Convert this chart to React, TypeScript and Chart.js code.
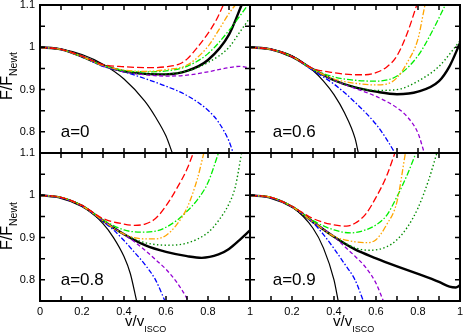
import React, { useEffect, useRef } from 'react';
import { Chart, registerables } from 'chart.js';

Chart.register(...registerables);

type Pts = [number, number][];

// ---- axis ticks / labels ----
const X_TICKS = [0, 0.1, 0.2, 0.3, 0.4, 0.5, 0.6, 0.7, 0.8, 0.9, 1.0];
const Y_TICKS = [0.75, 0.8, 0.85, 0.9, 0.95, 1.0, 1.05, 1.1];
const X_LABELS = ['0', '0.2', '0.4', '0.6', '0.8', '1'];
const Y_LABELS = ['0.8', '0.9', '1', '1.1'];
const PANEL_LABELS = ['a=0', 'a=0.6', 'a=0.8', 'a=0.9'];

// ---- a = 0 ----
const A0_THIN: Pts = [[0, 1], [0.1, 0.996], [0.2, 0.983], [0.3, 0.96], [0.4, 0.925], [0.5, 0.872], [0.55, 0.835], [0.6, 0.79], [0.63, 0.75]];
const A0_THICK: Pts = [[0, 1], [0.1, 0.995], [0.2, 0.978], [0.3, 0.957], [0.4, 0.943], [0.5, 0.937], [0.6, 0.936], [0.7, 0.944], [0.8, 0.97], [0.9, 1.03], [0.96, 1.1]];
const A0_RED: Pts = [[0, 1], [0.1, 0.995], [0.2, 0.979], [0.3, 0.959], [0.4, 0.954], [0.5, 0.952], [0.55, 0.952], [0.6, 0.954], [0.667, 0.961], [0.7, 0.972], [0.75, 1.0], [0.8, 1.033], [0.84, 1.065], [0.873, 1.1]];
const A0_ORANGE: Pts = [[0, 1], [0.1, 0.995], [0.2, 0.978], [0.3, 0.957], [0.4, 0.946], [0.5, 0.943], [0.55, 0.944], [0.6, 0.947], [0.7, 0.958], [0.8, 1.002], [0.85, 1.04], [0.9, 1.08], [0.93, 1.1]];
const A0_GREEN: Pts = [[0, 1], [0.1, 0.995], [0.2, 0.978], [0.3, 0.957], [0.4, 0.945], [0.5, 0.942], [0.6, 0.944], [0.7, 0.955], [0.8, 0.985], [0.9, 1.04], [0.99, 1.1]];
const A0_DOTTED: Pts = [[0, 1], [0.1, 0.995], [0.2, 0.978], [0.3, 0.957], [0.4, 0.943], [0.5, 0.937], [0.6, 0.937], [0.7, 0.944], [0.8, 0.964], [0.9, 1.0], [0.95, 1.035], [1.0, 1.07]];
const A0_PURPLE: Pts = [[0, 1], [0.1, 0.995], [0.2, 0.978], [0.3, 0.956], [0.4, 0.942], [0.5, 0.935], [0.6, 0.932], [0.7, 0.934], [0.8, 0.942], [0.9, 0.952], [0.95, 0.955], [1.0, 0.951]];
const A0_BLUE: Pts = [[0, 1], [0.1, 0.995], [0.2, 0.978], [0.3, 0.955], [0.4, 0.942], [0.5, 0.926], [0.6, 0.908], [0.7, 0.886], [0.8, 0.851], [0.85, 0.823], [0.9, 0.778], [0.92, 0.75]];

// ---- a = 0.6 ----
const A6_THIN: Pts = [[0, 1], [0.1, 0.996], [0.2, 0.98], [0.3, 0.945], [0.35, 0.92], [0.4, 0.888], [0.45, 0.845], [0.5, 0.785], [0.516, 0.75]];
const A6_THICK: Pts = [[0, 1], [0.1, 0.995], [0.2, 0.978], [0.3, 0.948], [0.4, 0.922], [0.5, 0.905], [0.6, 0.895], [0.7, 0.889], [0.8, 0.895], [0.9, 0.92], [0.95, 0.955], [1.0, 1.01]];
const A6_RED: Pts = [[0, 1], [0.1, 0.995], [0.2, 0.978], [0.3, 0.95], [0.4, 0.94], [0.5, 0.935], [0.55, 0.935], [0.6, 0.94], [0.65, 0.953], [0.7, 0.98], [0.75, 1.035], [0.794, 1.1]];
const A6_ORANGE: Pts = [[0, 1], [0.1, 0.995], [0.2, 0.978], [0.3, 0.948], [0.4, 0.925], [0.5, 0.915], [0.6, 0.911], [0.65, 0.913], [0.7, 0.928], [0.75, 0.965], [0.8, 1.02], [0.833, 1.1]];
const A6_GREEN: Pts = [[0, 1], [0.1, 0.995], [0.2, 0.978], [0.3, 0.948], [0.4, 0.93], [0.5, 0.922], [0.6, 0.92], [0.7, 0.932], [0.8, 0.98], [0.87, 1.04], [0.93, 1.1]];
const A6_DOTTED: Pts = [[0, 1], [0.1, 0.995], [0.2, 0.978], [0.3, 0.948], [0.4, 0.922], [0.5, 0.906], [0.6, 0.898], [0.7, 0.9], [0.8, 0.92], [0.9, 0.955], [1.0, 1.015]];
const A6_PURPLE: Pts = [[0, 1], [0.1, 0.995], [0.2, 0.978], [0.3, 0.948], [0.4, 0.922], [0.5, 0.903], [0.6, 0.884], [0.7, 0.857], [0.75, 0.835], [0.8, 0.797], [0.83, 0.75]];
const A6_BLUE: Pts = [[0, 1], [0.1, 0.995], [0.2, 0.978], [0.3, 0.945], [0.4, 0.913], [0.5, 0.87], [0.6, 0.818], [0.65, 0.783], [0.69, 0.75]];

// ---- a = 0.8 ----
const A8_THIN: Pts = [[0, 1], [0.1, 0.995], [0.2, 0.975], [0.3, 0.933], [0.35, 0.9], [0.4, 0.855], [0.43, 0.815], [0.46, 0.75]];
const A8_THICK: Pts = [[0, 1], [0.1, 0.994], [0.2, 0.975], [0.3, 0.94], [0.4, 0.908], [0.5, 0.882], [0.6, 0.866], [0.7, 0.856], [0.77, 0.852], [0.85, 0.86], [0.9, 0.873], [0.95, 0.894], [1.0, 0.917]];
const A8_RED: Pts = [[0, 1], [0.1, 0.995], [0.2, 0.976], [0.3, 0.945], [0.4, 0.932], [0.45, 0.929], [0.5, 0.932], [0.55, 0.945], [0.6, 0.975], [0.65, 1.015], [0.7, 1.062], [0.73, 1.1]];
const A8_ORANGE: Pts = [[0, 1], [0.1, 0.995], [0.2, 0.975], [0.3, 0.94], [0.4, 0.908], [0.5, 0.897], [0.55, 0.897], [0.6, 0.905], [0.65, 0.93], [0.7, 0.97], [0.75, 1.04], [0.78, 1.1]];
const A8_GREEN: Pts = [[0, 1], [0.1, 0.995], [0.2, 0.976], [0.3, 0.942], [0.4, 0.918], [0.48, 0.913], [0.55, 0.915], [0.65, 0.94], [0.7, 0.962], [0.75, 0.99], [0.8, 1.03], [0.85, 1.1]];
const A8_DOTTED: Pts = [[0, 1], [0.1, 0.994], [0.2, 0.975], [0.3, 0.94], [0.4, 0.908], [0.5, 0.888], [0.6, 0.882], [0.7, 0.887], [0.8, 0.912], [0.85, 0.94], [0.9, 0.98], [0.93, 1.02], [0.96, 1.1]];
const A8_PURPLE: Pts = [[0, 1], [0.1, 0.994], [0.2, 0.975], [0.3, 0.94], [0.4, 0.907], [0.45, 0.89], [0.5, 0.87], [0.55, 0.848], [0.6, 0.825], [0.65, 0.795], [0.7, 0.756], [0.706, 0.75]];
const A8_BLUE: Pts = [[0, 1], [0.1, 0.994], [0.2, 0.975], [0.3, 0.938], [0.35, 0.918], [0.4, 0.893], [0.45, 0.865], [0.5, 0.836], [0.55, 0.8], [0.595, 0.75]];

// ---- a = 0.9 ----
const A9_THIN: Pts = [[0, 1], [0.1, 0.995], [0.2, 0.973], [0.3, 0.922], [0.35, 0.875], [0.4, 0.8], [0.42, 0.75]];
const A9_THICK: Pts = [[0, 1], [0.1, 0.994], [0.2, 0.973], [0.3, 0.937], [0.4, 0.902], [0.5, 0.872], [0.6, 0.851], [0.7, 0.832], [0.8, 0.814], [0.9, 0.795], [0.95, 0.784], [0.98, 0.782], [1.0, 0.787]];
const A9_RED: Pts = [[0, 1], [0.1, 0.995], [0.2, 0.974], [0.3, 0.945], [0.4, 0.93], [0.46, 0.927], [0.5, 0.934], [0.55, 0.955], [0.6, 0.995], [0.65, 1.045], [0.69, 1.1]];
const A9_ORANGE: Pts = [[0, 1], [0.1, 0.995], [0.2, 0.973], [0.3, 0.937], [0.4, 0.903], [0.5, 0.89], [0.55, 0.888], [0.6, 0.895], [0.65, 0.93], [0.7, 0.985], [0.74, 1.1]];
const A9_GREEN: Pts = [[0, 1], [0.1, 0.995], [0.2, 0.974], [0.3, 0.94], [0.4, 0.918], [0.48, 0.911], [0.55, 0.918], [0.6, 0.93], [0.65, 0.952], [0.7, 0.997], [0.75, 1.05], [0.79, 1.1]];
const A9_DOTTED: Pts = [[0, 1], [0.1, 0.994], [0.2, 0.973], [0.3, 0.937], [0.4, 0.902], [0.5, 0.876], [0.57, 0.87], [0.65, 0.878], [0.7, 0.895], [0.75, 0.925], [0.8, 0.97], [0.85, 1.035], [0.89, 1.1]];
const A9_PURPLE: Pts = [[0, 1], [0.1, 0.994], [0.2, 0.973], [0.3, 0.937], [0.4, 0.902], [0.45, 0.879], [0.5, 0.856], [0.55, 0.83], [0.6, 0.792], [0.635, 0.75]];
const A9_BLUE: Pts = [[0, 1], [0.1, 0.994], [0.2, 0.973], [0.3, 0.935], [0.35, 0.907], [0.4, 0.874], [0.45, 0.838], [0.5, 0.8], [0.54, 0.75]];

const PANEL_SERIES: Pts[][] = [
  [A0_THICK, A0_THIN, A0_RED, A0_ORANGE, A0_GREEN, A0_DOTTED, A0_PURPLE, A0_BLUE],
  [A6_THICK, A6_THIN, A6_RED, A6_ORANGE, A6_GREEN, A6_DOTTED, A6_PURPLE, A6_BLUE],
  [A8_THICK, A8_THIN, A8_RED, A8_ORANGE, A8_GREEN, A8_DOTTED, A8_PURPLE, A8_BLUE],
  [A9_THICK, A9_THIN, A9_RED, A9_ORANGE, A9_GREEN, A9_DOTTED, A9_PURPLE, A9_BLUE],
];

// styles (same order as series)
const STYLES = [
  { color: '#000000', width: 2.4, dash: [] as number[], order: 3 },
  { color: '#000000', width: 1.2, dash: [] as number[], order: 3 },
  { color: '#ff0000', width: 1.3, dash: [7, 3], order: 1 },
  { color: '#ffa500', width: 1.3, dash: [6, 2, 1.5, 2, 1.5, 2], order: 1 },
  { color: '#00ee00', width: 1.3, dash: [6, 2, 1.5, 2], order: 1 },
  { color: '#008b00', width: 1.4, dash: [1.4, 2.4], order: 1 },
  { color: '#9400d3', width: 1.3, dash: [4, 2.5], order: 1 },
  { color: '#0000ff', width: 1.3, dash: [5, 2, 1.5, 2], order: 1 },
];

const W = 463;
const H = 333;
const FONT = '"Liberation Sans", Arial, Helvetica, sans-serif';
const TICK_LEN = 5;

// panel geometry: plot-area edges
const PANELS = [
  { l: 40, r: 250, t: 5, b: 153, left: true, bottom: false },
  { l: 250, r: 460, t: 5, b: 153, left: false, bottom: false },
  { l: 40, r: 250, t: 153, b: 301, left: true, bottom: true },
  { l: 250, r: 460, t: 153, b: 301, left: false, bottom: true },
];

const framePlugin = {
  id: 'frameTicks',
  afterDraw(chart: any) {
    const { ctx, chartArea } = chart;
    const { left, right, top, bottom } = chartArea;
    const xs = chart.scales.x;
    const ys = chart.scales.y;
    ctx.save();
    ctx.strokeStyle = '#000';
    ctx.lineWidth = 1.5;
    ctx.beginPath();
    X_TICKS.forEach((v) => {
      const px = xs.getPixelForValue(v);
      ctx.moveTo(px, top);
      ctx.lineTo(px, top + TICK_LEN);
      ctx.moveTo(px, bottom);
      ctx.lineTo(px, bottom - TICK_LEN);
    });
    Y_TICKS.forEach((v) => {
      const py = ys.getPixelForValue(v);
      ctx.moveTo(left, py);
      ctx.lineTo(left + TICK_LEN, py);
      ctx.moveTo(right, py);
      ctx.lineTo(right - TICK_LEN, py);
    });
    ctx.stroke();
    ctx.lineWidth = 2;
    ctx.strokeRect(left, top, right - left, bottom - top);
    ctx.restore();
  },
};

function Panel({ idx }: { idx: number }) {
  const ref = useRef<HTMLCanvasElement | null>(null);
  useEffect(() => {
    const p = PANELS[idx];
    const series = PANEL_SERIES[idx];
    const datasets = series.map((pts, i) => ({
      data: pts.map(([x, y]) => ({ x, y })),
      borderColor: STYLES[i].color,
      borderWidth: STYLES[i].width,
      borderDash: STYLES[i].dash,
      order: STYLES[i].order,
      pointRadius: 0,
      fill: false,
      cubicInterpolationMode: 'monotone' as const,
    }));
    const chart = new Chart(ref.current as HTMLCanvasElement, {
      type: 'line',
      data: { datasets },
      options: {
        animation: false,
        responsive: false,
        events: [],
        layout: {
          padding: {
            left: p.left ? 0 : p.l,
            right: W - p.r,
            top: p.t,
            bottom: p.bottom ? 0 : H - p.b,
          },
        },
        plugins: { legend: { display: false }, tooltip: { enabled: false }, title: { display: false } },
        scales: {
          x: {
            type: 'linear',
            min: 0,
            max: 1,
            display: p.bottom,
            grid: { display: false, drawTicks: false },
            border: { display: false },
            ticks: {
              stepSize: 0.1,
              autoSkip: false,
              maxRotation: 0,
              minRotation: 0,
              padding: 4,
              color: '#000',
              font: { family: FONT, size: 11 },
              callback: (v: any) => {
                const s = String(Math.round(Number(v) * 10) / 10);
                if (!p.left && s === '0') return '';
                return X_LABELS.includes(s) ? s : '';
              },
            },
            afterFit: (s: any) => {
              s.height = p.bottom ? H - p.b : 0;
              s.paddingLeft = 0;
              s.paddingRight = 0;
            },
          },
          y: {
            type: 'linear',
            min: 0.75,
            max: 1.1,
            display: p.left,
            grid: { display: false, drawTicks: false },
            border: { display: false },
            ticks: {
              stepSize: 0.05,
              autoSkip: false,
              padding: 5,
              color: '#000',
              font: { family: FONT, size: 11 },
              callback: (v: any) => {
                const s = String(Math.round(Number(v) * 100) / 100);
                return Y_LABELS.includes(s) ? s : '';
              },
            },
            afterFit: (s: any) => {
              s.width = p.left ? p.l : 0;
              s.paddingTop = 0;
              s.paddingBottom = 0;
            },
          },
        },
      } as any,
      plugins: [framePlugin],
    });
    return () => chart.destroy();
  }, [idx]);
  return (
    <canvas
      ref={ref}
      width={W}
      height={H}
      style={{ position: 'absolute', left: 0, top: 0, width: W, height: H }}
    />
  );
}

const textBase: React.CSSProperties = {
  position: 'absolute',
  fontFamily: FONT,
  color: '#000',
  whiteSpace: 'nowrap',
  lineHeight: 1,
};

function YTitle({ y }: { y: number }) {
  return (
    <div
      style={{
        ...textBase,
        left: -1.5,
        top: y,
        fontSize: 16,
        lineHeight: '16px',
        transformOrigin: '0 0',
        transform: 'rotate(-90deg)',
      }}
    >
      F/F
      <span style={{ fontSize: 10.5, position: 'relative', top: 5 }}>Newt</span>
    </div>
  );
}

function XTitle({ x }: { x: number }) {
  return (
    <div style={{ ...textBase, left: x, top: 313, fontSize: 15, lineHeight: '15px' }}>
      v/v
      <span style={{ fontSize: 9, position: 'relative', top: 6 }}>ISCO</span>
    </div>
  );
}

export default function App() {
  const labelPos = [
    { x: 60.7, y: 122.9 },
    { x: 272.7, y: 122.9 },
    { x: 60.7, y: 270.8 },
    { x: 272.7, y: 270.8 },
  ];
  return (
    <div style={{ position: 'absolute', left: 0, top: 0, width: W, height: H, background: '#fff', overflow: 'hidden' }}>
      {[0, 1, 2, 3].map((i) => (
        <Panel key={i} idx={i} />
      ))}
      {PANEL_LABELS.map((t, i) => (
        <div key={t} style={{ ...textBase, left: labelPos[i].x, top: labelPos[i].y, fontSize: 17, lineHeight: '17px' }}>
          {t}
        </div>
      ))}
      <YTitle y={100} />
      <YTitle y={250} />
      <XTitle x={125} />
      <XTitle x={333} />
    </div>
  );
}
